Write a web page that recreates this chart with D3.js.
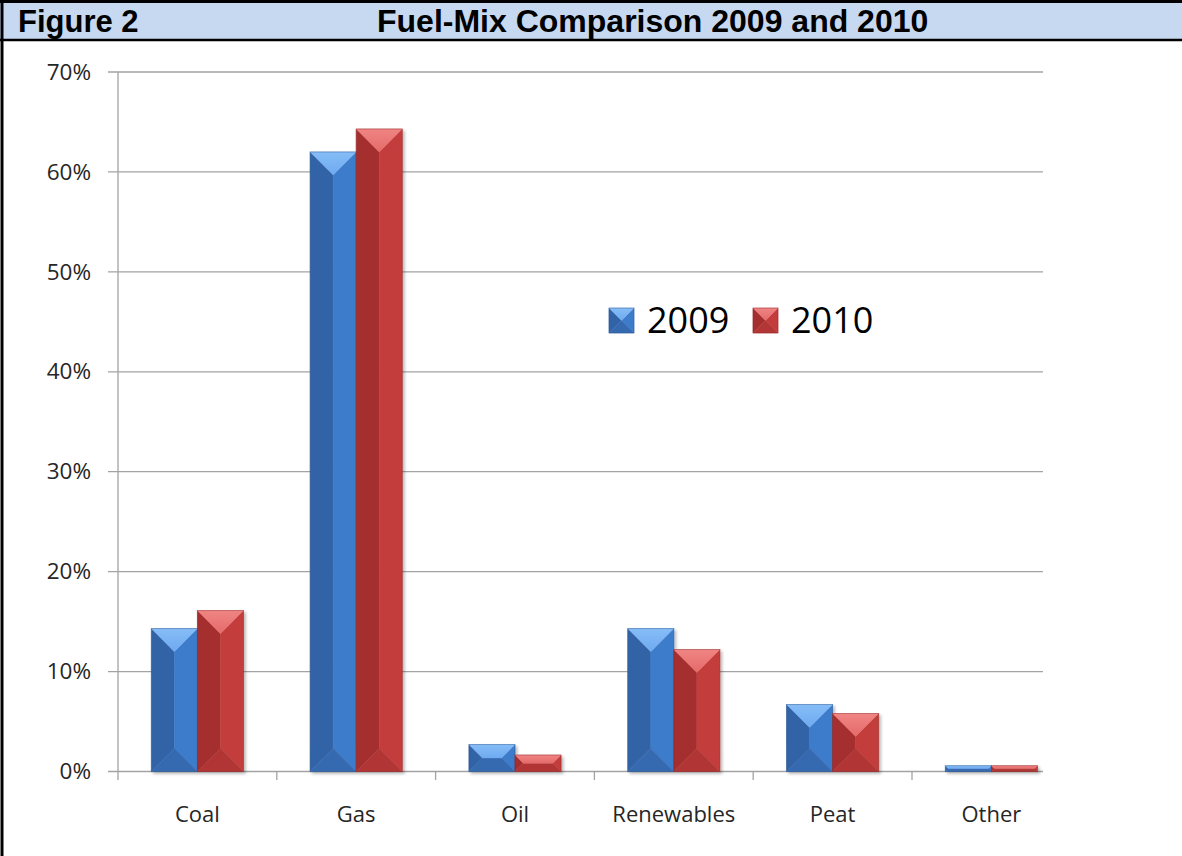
<!DOCTYPE html>
<html>
<head>
<meta charset="utf-8">
<script src="https://cdn.jsdelivr.net/npm/d3@7"></script>
<style>
  body { margin: 0; background: #fff; }
  svg { display: block; }
</style>
</head>
<body>
<div id="chart"></div>
<script>
const categories = ["Coal", "Gas", "Oil", "Renewables", "Peat", "Other"];
const years = ["2009", "2010"];
const values2009 = [14.3, 62.0, 2.7, 14.3, 6.7, 0.58];
const values2010 = [16.1, 64.3, 1.65, 12.2, 5.8, 0.58];
const yTicks = [0, 10, 20, 30, 40, 50, 60, 70];

const palettes = {
  "2009": { top: "#6eaaf0", topHi: "#86bdf7", left: "#3263a6", right: "#3d7bcb", bottom: "#3569b0", edge: "#2a5590" },
  "2010": { top: "#e56a69", topHi: "#ef8584", left: "#a52f2f", right: "#c43d3c", bottom: "#b23635", edge: "#8e2828" }
};

const width = 1182, height = 856;
const plot = { left: 118, right: 1043, top: 72, bottom: 771.5 };
const catStep = 158.8;

const svg = d3.select("#chart").append("svg")
  .attr("width", width)
  .attr("height", height);

const defs = svg.append("defs");
defs.append("filter")
  .attr("id", "shadow")
  .attr("x", "-20%").attr("y", "-20%").attr("width", "140%").attr("height", "140%")
  .append("feDropShadow")
  .attr("dx", 2).attr("dy", 2).attr("stdDeviation", 1.5)
  .attr("flood-color", "#000").attr("flood-opacity", 0.28);

years.forEach(yr => {
  const grad = defs.append("linearGradient")
    .attr("id", "top" + yr)
    .attr("x1", 0).attr("y1", 0).attr("x2", 0).attr("y2", 1);
  grad.append("stop").attr("offset", "0%").attr("stop-color", palettes[yr].topHi);
  grad.append("stop").attr("offset", "100%").attr("stop-color", palettes[yr].top);
});

// header band and frame
svg.append("rect")
  .attr("x", 0).attr("y", 0)
  .attr("width", width).attr("height", 40)
  .attr("fill", "#c6d9f1");

svg.append("line").attr("x1", 0).attr("x2", width).attr("y1", 1.5).attr("y2", 1.5)
  .attr("stroke", "#000").attr("stroke-width", 3);
svg.append("line").attr("x1", 0).attr("x2", width).attr("y1", 40).attr("y2", 40)
  .attr("stroke", "#000").attr("stroke-width", 2.5);
svg.append("line").attr("x1", 2).attr("x2", 2).attr("y1", 0).attr("y2", height)
  .attr("stroke", "#000").attr("stroke-width", 3);

svg.append("text")
  .attr("x", 18).attr("y", 31.5)
  .attr("font-family", "'Liberation Sans', Arial, sans-serif")
  .attr("font-weight", "bold")
  .attr("font-size", "31px")
  .attr("fill", "#000")
  .text("Figure 2");

svg.append("text")
  .attr("x", 377).attr("y", 31.5)
  .attr("font-family", "'Liberation Sans', Arial, sans-serif")
  .attr("font-weight", "bold")
  .attr("font-size", "32px")
  .attr("fill", "#000")
  .text("Fuel-Mix Comparison 2009 and 2010");

// scales
const y = d3.scaleLinear().domain([0, 70]).range([plot.bottom, plot.top]);

const x0 = d3.scaleBand()
  .domain(categories)
  .range([plot.left, plot.left + catStep * categories.length]);

const inset = x0.bandwidth() * 0.21;
const x1 = d3.scaleBand()
  .domain(years)
  .range([inset, x0.bandwidth() - inset]);

const chartFont = "'Open Sans', 'Noto Sans', sans-serif";

// gridlines
svg.append("g")
  .selectAll("line")
  .data(yTicks)
  .join("line")
  .attr("x1", plot.left - 10)
  .attr("x2", plot.right)
  .attr("y1", d => y(d))
  .attr("y2", d => y(d))
  .attr("stroke", "#a3a3a3")
  .attr("stroke-width", 1.3);

// y axis labels
svg.append("g")
  .attr("transform", `translate(${plot.left},0)`)
  .call(d3.axisLeft(y).tickValues(yTicks).tickSize(0).tickPadding(27).tickFormat(d => d + "%"))
  .call(g => g.select(".domain").remove())
  .call(g => g.selectAll("text")
    .attr("font-family", chartFont)
    .attr("font-size", "22.5px")
    .attr("fill", "#262626"));

// y axis line (runs down past baseline like the first category tick)
svg.append("line")
  .attr("x1", plot.left).attr("x2", plot.left)
  .attr("y1", plot.top).attr("y2", plot.bottom + 8.5)
  .attr("stroke", "#a3a3a3").attr("stroke-width", 1.3);

// category boundary ticks
svg.append("g")
  .selectAll("line")
  .data(categories.slice(1))
  .join("line")
  .attr("x1", d => x0(d))
  .attr("x2", d => x0(d))
  .attr("y1", plot.bottom)
  .attr("y2", plot.bottom + 8.5)
  .attr("stroke", "#a3a3a3")
  .attr("stroke-width", 1.3);

// x axis labels
svg.append("g")
  .attr("transform", `translate(0,${plot.bottom})`)
  .call(d3.axisBottom(x0).tickSize(0))
  .call(g => g.select(".domain").remove())
  .call(g => g.selectAll("text")
    .attr("y", 50.5)
    .attr("dy", 0)
    .attr("font-family", chartFont)
    .attr("font-size", "22px")
    .attr("fill", "#262626"));

function bevel(g, x, top, w, h, yr) {
  const pal = palettes[yr];
  const d = Math.min(w, h) / 2;
  const xl = x + d, xr = x + w - d, yt = top + d, yb = top + h - d;
  const faces = [
    { pts: [[x, top], [xl, yt], [xl, yb], [x, top + h]], fill: pal.left },
    { pts: [[x + w, top], [x + w, top + h], [xr, yb], [xr, yt]], fill: pal.right },
    { pts: [[x, top + h], [x + w, top + h], [xr, yb], [xl, yb]], fill: pal.bottom },
    { pts: [[x, top], [x + w, top], [xr, yt], [xl, yt]], fill: `url(#top${yr})`, stroke: pal.top }
  ];
  const bar = g.append("g");
  bar.selectAll("polygon")
    .data(faces)
    .join("polygon")
    .attr("points", f => f.pts.map(p => p.join(",")).join(" "))
    .attr("fill", f => f.fill)
    .attr("stroke", f => f.stroke || f.fill)
    .attr("stroke-width", 0.4);
  bar.append("rect")
    .attr("x", x).attr("y", top)
    .attr("width", w).attr("height", h)
    .attr("fill", "none")
    .attr("stroke", pal.edge)
    .attr("stroke-opacity", 0.55)
    .attr("stroke-width", 0.8);
}

// bars
const rows = categories.map((c, i) => ({ category: c, "2009": values2009[i], "2010": values2010[i] }));
const barLayer = svg.append("g").attr("filter", "url(#shadow)");

rows.forEach(row => {
  years.forEach(yr => {
    const v = row[yr];
    bevel(barLayer,
      x0(row.category) + x1(yr),
      y(v),
      x1.bandwidth(),
      y(0) - y(v),
      yr);
  });
});

// legend
const legend = svg.append("g").attr("transform", "translate(609,308)");
years.forEach((yr, i) => {
  const item = legend.append("g").attr("transform", `translate(${i * 144},0)`);
  bevel(item, 0, 0, 25, 25, yr);
  item.append("text")
    .attr("x", 38)
    .attr("y", 25)
    .attr("font-family", chartFont)
    .attr("font-size", "36px")
    .attr("fill", "#000")
    .text(yr);
});
</script>
</body>
</html>
